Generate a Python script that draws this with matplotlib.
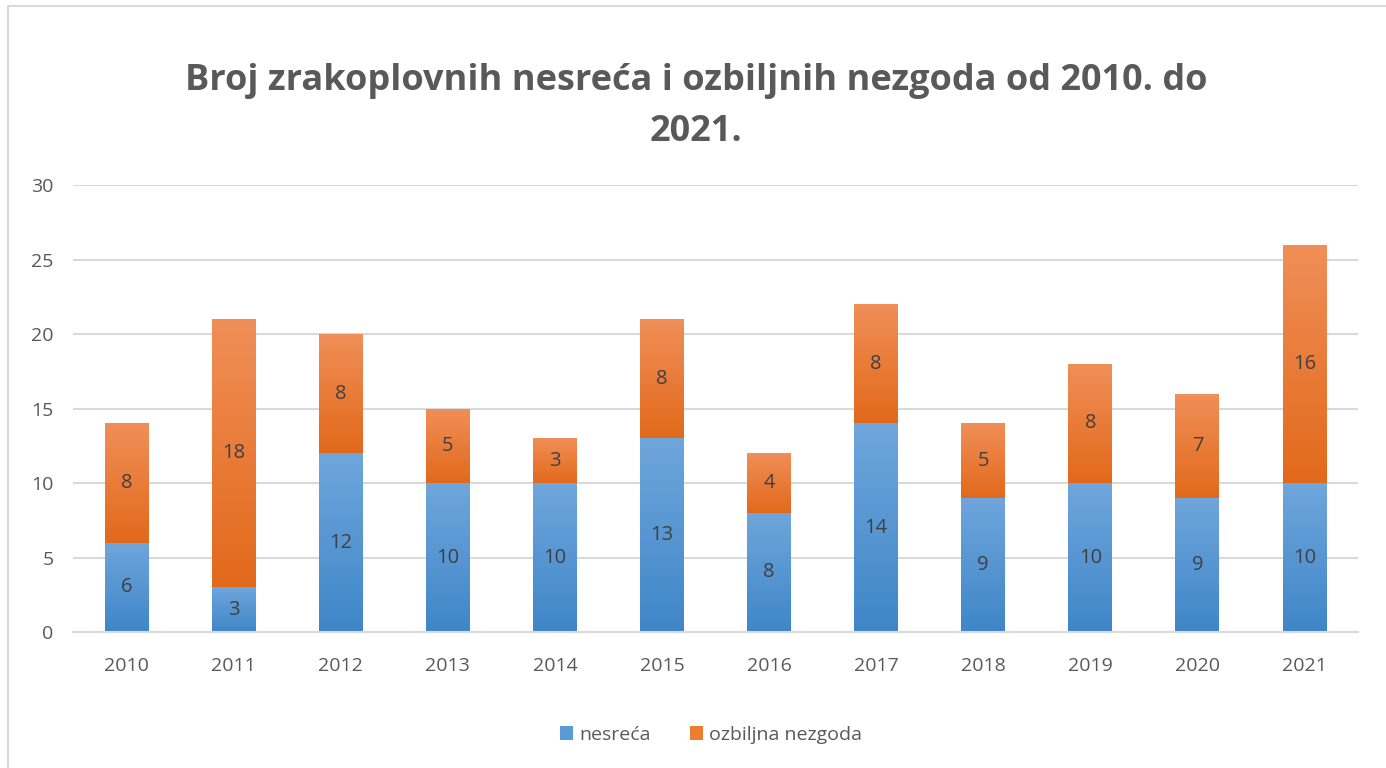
import numpy as np
import matplotlib
matplotlib.use('Agg')
import matplotlib.pyplot as plt
from matplotlib.colors import LinearSegmentedColormap
from matplotlib.patches import Rectangle

plt.rcParams['font.family'] = ['Open Sans', 'DejaVu Sans']

# Data
years = ['2010', '2011', '2012', '2013', '2014', '2015',
         '2016', '2017', '2018', '2019', '2020', '2021']
nesreca = [6, 3, 12, 10, 10, 13, 8, 14, 9, 10, 9, 10]
ozbiljna = [8, 18, 8, 5, 3, 8, 4, 8, 5, 8, 7, 16]
series_names = ['nesreća', 'ozbiljna nezgoda']

blue_grad = LinearSegmentedColormap.from_list('b', ['#3f86c8', '#6fa6dc'])
orange_grad = LinearSegmentedColormap.from_list('o', ['#e2691b', '#f08f58'])

fig = plt.figure(figsize=(13.86, 7.68), dpi=100)
ax = fig.add_axes([0.0527, 0.177, 0.9271, 0.582])

x = np.arange(len(years))
w = 0.41
b1 = ax.bar(x, nesreca, width=w, color='#5b9bd5', label=series_names[0], zorder=2)
b2 = ax.bar(x, ozbiljna, width=w, bottom=nesreca, color='#ed7d31',
            label=series_names[1], zorder=2)

# vertical gradient fill clipped to each bar
grad = np.linspace(0, 1, 256).reshape(-1, 1)
for bars, cmap in ((b1, blue_grad), (b2, orange_grad)):
    for p in bars:
        x0, y0 = p.get_x(), p.get_y()
        im = ax.imshow(grad, cmap=cmap, origin='lower', aspect='auto',
                       extent=[x0, x0 + p.get_width(), y0, y0 + p.get_height()],
                       zorder=2.5)
        im.set_clip_path(p)

# data labels
for bars, vals in ((b1, nesreca), (b2, ozbiljna)):
    for p, v in zip(bars, vals):
        ax.text(p.get_x() + p.get_width() / 2, p.get_y() + p.get_height() / 2,
                str(v), ha='center', va='center', fontsize=14.5,
                color='#404040', zorder=3)

ax.set_xlim(-0.5, len(years) - 0.5)
ax.set_ylim(0, 30)
ax.set_yticks(range(0, 31, 5))
ax.set_xticks(x)
ax.set_xticklabels(years)
ax.tick_params(length=0, labelsize=14, labelcolor='#595959')
ax.tick_params(axis='y', pad=14)
ax.tick_params(axis='x', pad=18)
ax.grid(axis='y', color='#d9d9d9', linewidth=1.5, zorder=0)
ax.set_axisbelow(True)
for s in ['top', 'right', 'left']:
    ax.spines[s].set_visible(False)
ax.spines['bottom'].set_color('#d9d9d9')
ax.spines['bottom'].set_linewidth(1.5)

fig.suptitle('Broj zrakoplovnih nesreća i ozbiljnih nezgoda od 2010. do\n2021.',
             x=0.502, y=0.918, fontsize=26, fontweight='bold', color='#595959',
             linespacing=1.55)

leg = fig.legend(handles=[b1, b2], labels=series_names, loc='center',
                 bbox_to_anchor=(0.513, 0.043), ncol=2, frameon=False,
                 fontsize=14, handlelength=0.7, handleheight=0.7,
                 handletextpad=0.3, columnspacing=2.0)
for t in leg.get_texts():
    t.set_color('#595959')

# chart frame
fig.patches.append(Rectangle((0.0058, -0.05), 1.1, 1.0422, transform=fig.transFigure,
                             fill=False, edgecolor='#d9d9d9', linewidth=1.5))

fig.savefig('out.png', dpi=100)
